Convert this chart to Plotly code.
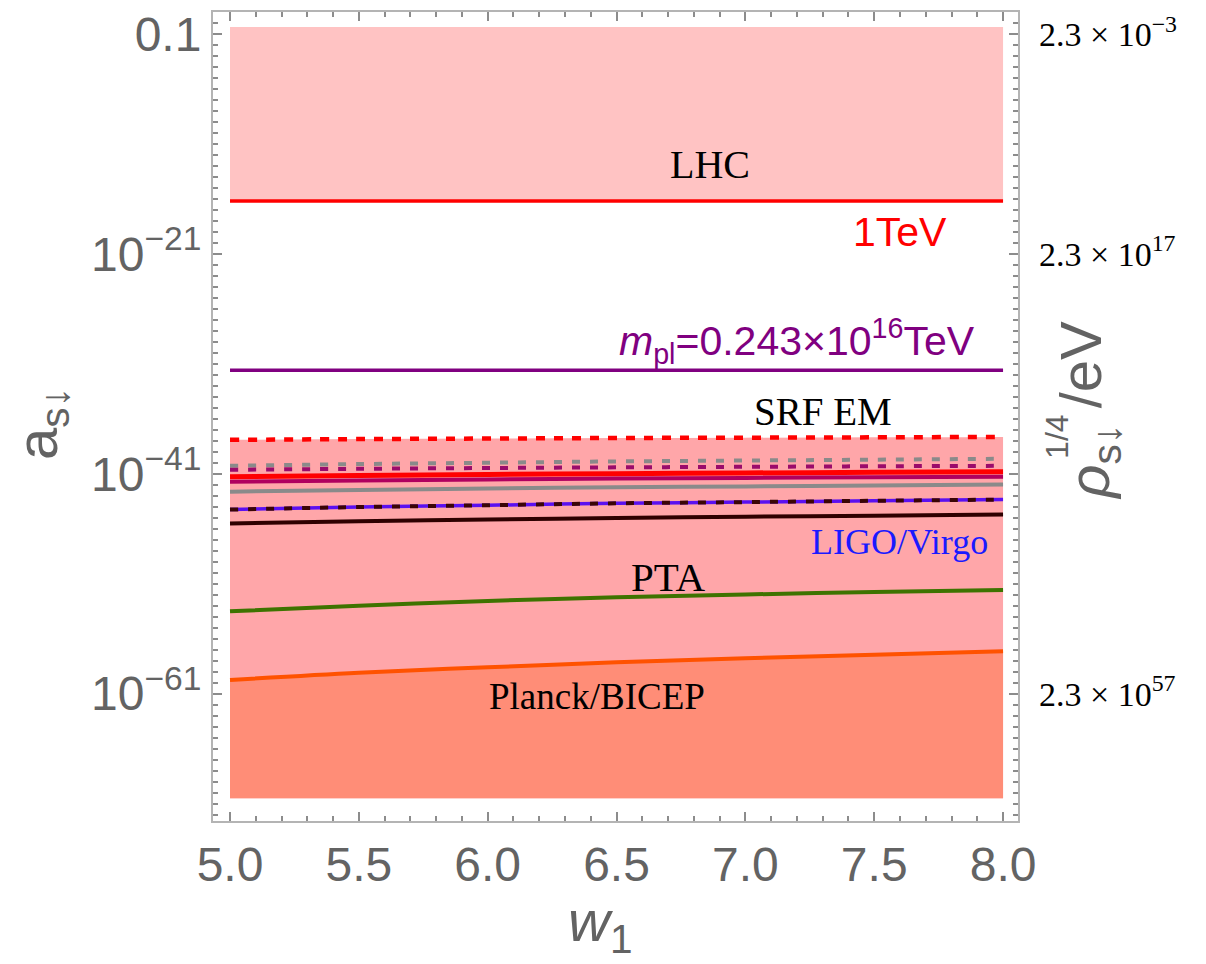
import plotly.graph_objects as go

# ---------------- data ----------------
W = [5.0, 5.5, 6.0, 6.5, 7.0, 7.5, 8.0]

# log10(a_s) values
LHC_LOG = [-16.2] * 7
MPL_LOG = [-31.6] * 7
FILL_TOP_LOG = [-0.37] * 7
FILL_BOTTOM_LOG = [-70.5] * 7

RED_DASH_LOG = [-37.92, -37.85, -37.80, -37.75, -37.72, -37.69, -37.65]
GRAY_DASH_LOG = [-40.28, -40.12, -40.00, -39.88, -39.80, -39.72, -39.64]
PURPLE_DASH_LOG = [-40.64, -40.55, -40.48, -40.42, -40.37, -40.32, -40.28]
RED_SOLID_LOG = [-41.27, -41.16, -41.07, -40.99, -40.93, -40.87, -40.82]
MAGENTA_SOLID_LOG = [-41.72, -41.61, -41.52, -41.44, -41.38, -41.32, -41.27]
GRAY_SOLID_LOG = [-42.63, -42.47, -42.35, -42.23, -42.15, -42.07, -41.99]
BLUE_SOLID_LOG = [-44.26, -44.03, -43.86, -43.69, -43.58, -43.46, -43.35]
DARK_DASH_LOG = [-44.26, -44.03, -43.86, -43.69, -43.58, -43.46, -43.35]
BLACK_SOLID_LOG = [-45.52, -45.32, -45.16, -45.02, -44.91, -44.81, -44.71]
PTA_LOG = [-53.51, -53.00, -52.57, -52.23, -51.98, -51.76, -51.57]
PLANCK_LOG = [-59.76, -59.10, -58.60, -58.15, -57.79, -57.45, -57.14]

X_TICKS = [5.0, 5.5, 6.0, 6.5, 7.0, 7.5, 8.0]
X_TICK_TEXT = ["5.0", "5.5", "6.0", "6.5", "7.0", "7.5", "8.0"]
Y_TICK_EXP = [-1, -21, -41, -61]
Y_TICK_TEXT = ["0.1", "10<sup>\u221221</sup>", "10<sup>\u221241</sup>", "10<sup>\u221261</sup>"]
Y2_TICK_EXP = [-1, -21, -61]
Y2_TICK_TEXT = ["2.3 \u00d7 10<sup>\u22123</sup>", "2.3 \u00d7 10<sup>17</sup>", "2.3 \u00d7 10<sup>57</sup>"]


def v(logs):
    return [10.0 ** e for e in logs]


SANS = "Liberation Sans, Arial, sans-serif"
SERIF = "Liberation Serif, Times New Roman, serif"
GRAY = "#636363"

fig = go.Figure()

# ---- fills ----
fig.add_trace(go.Scatter(x=W, y=v(FILL_TOP_LOG), mode="lines", line=dict(width=0),
                         showlegend=False, hoverinfo="skip"))
fig.add_trace(go.Scatter(x=W, y=v(LHC_LOG), mode="lines", fill="tonexty",
                         fillcolor="#FFC3C3", line=dict(color="#FF0000", width=3.5),
                         showlegend=False))
fig.add_trace(go.Scatter(x=W, y=v(FILL_BOTTOM_LOG), mode="lines", line=dict(width=0),
                         showlegend=False, hoverinfo="skip"))
fig.add_trace(go.Scatter(x=W, y=v(RED_DASH_LOG), mode="lines", fill="tonexty",
                         fillcolor="#FFA6A9", line=dict(width=0, shape="spline"),
                         showlegend=False, hoverinfo="skip"))
fig.add_trace(go.Scatter(x=W, y=v(FILL_BOTTOM_LOG), mode="lines", line=dict(width=0),
                         showlegend=False, hoverinfo="skip"))
fig.add_trace(go.Scatter(x=W, y=v(PLANCK_LOG), mode="lines", fill="tonexty",
                         fillcolor="#FF8D77", line=dict(width=0, shape="spline"),
                         showlegend=False, hoverinfo="skip"))

# ---- lines ----
def add_line(logs, color, width, dash="solid"):
    fig.add_trace(go.Scatter(x=W, y=v(logs), mode="lines",
                             line=dict(color=color, width=width, dash=dash, shape="spline"),
                             showlegend=False))


add_line(MPL_LOG, "#800080", 3.5)
add_line(RED_DASH_LOG, "#FF0000", 4.5, "9px,9px")
add_line(GRAY_DASH_LOG, "#8A8A8A", 4, "8px,10px")
add_line(PURPLE_DASH_LOG, "#9B0B6B", 4, "8px,10px")
add_line(RED_SOLID_LOG, "#FF0000", 5)
add_line(MAGENTA_SOLID_LOG, "#B0005F", 4)
add_line(GRAY_SOLID_LOG, "#8A8A8A", 4)
add_line(BLUE_SOLID_LOG, "#5A10F0", 3.5)
add_line(DARK_DASH_LOG, "#3A0505", 4, "8px,10px")
add_line(BLACK_SOLID_LOG, "#2E0000", 4)
add_line(PTA_LOG, "#3E7300", 4)
add_line(PLANCK_LOG, "#FF5200", 4)

# invisible trace to carry the right axis
fig.add_trace(go.Scatter(x=W, y=v(LHC_LOG), yaxis="y2", mode="lines",
                         line=dict(width=0), opacity=0, showlegend=False, hoverinfo="skip"))

# ---- in-plot labels ----
labels = [
    ("LHC", 6.863, -12.86, SERIF, 40, "black"),
    ("1TeV", 7.60, -19.0, SANS, 41, "#FF0000"),
    ("<i>m</i><sub>pl</sub>=0.243\u00d710<sup>16</sup>TeV", 7.20, -28.9, SANS, 41, "#800080"),
    ("SRF EM", 7.301, -35.30, SERIF, 39, "black"),
    ("LIGO/Virgo", 7.60, -47.24, SERIF, 36, "#1A1AFF"),
    ("PTA", 6.70, -50.41, SERIF, 41, "black"),
    ("Planck/BICEP", 6.424, -61.27, SERIF, 37, "black"),
]
for txt, xx, yy, fam, sz, col in labels:
    fig.add_annotation(x=xx, y=yy, xref="x", yref="y", text=txt, showarrow=False,
                       font=dict(family=fam, size=sz, color=col),
                       xanchor="center", yanchor="middle")

# ---- axis titles ----
def title_ann(text, px, py, size, angle=0, family=SANS):
    fig.add_annotation(x=(px - 205) / 805, y=(813 - py) / 813, xref="paper", yref="paper",
                       text=text, textangle=angle, showarrow=False,
                       xanchor="center", yanchor="middle",
                       font=dict(family=family, size=size, color=GRAY))


title_ann("a<sub>s\u2193</sub>", 33, 414, 58, -90)
title_ann("<i>w</i><sub>1</sub>", 592, 918, 58)
title_ann("<i>\u03c1</i><sub>s\u2193</sub>", 1085, 452, 58, -90)
title_ann("1/4", 1049, 427, 32, -90)
title_ann("/eV", 1072, 355, 58, -90)

FRAME = "#B4B4B4"
TICKC = "#8C8C8C"

fig.update_layout(
    width=1198, height=956,
    margin=dict(l=205, r=188, t=0, b=143),
    paper_bgcolor="white", plot_bgcolor="white",
    xaxis=dict(
        range=[4.934, 8.058], tickvals=X_TICKS, ticktext=X_TICK_TEXT,
        showgrid=False, zeroline=False, showline=True, mirror="ticks",
        linecolor=FRAME, linewidth=2, ticks="inside", ticklen=9, tickcolor=TICKC,
        tickwidth=1.5, ticklabelstandoff=0, ticklabeloverflow="allow",
        tickfont=dict(family=SANS, size=48, color=GRAY),
        minor=dict(dtick=0.1, tick0=5.0, ticks="inside", ticklen=5, tickcolor=TICKC),
    ),
    yaxis=dict(
        type="log", range=[-72.58, 0.99],
        tickvals=[10.0 ** e for e in Y_TICK_EXP], ticktext=Y_TICK_TEXT,
        showgrid=False, zeroline=False, showline=True, mirror="ticks",
        linecolor=FRAME, linewidth=2, ticks="inside", ticklen=9, tickcolor=TICKC,
        tickwidth=1.5, ticklabelstandoff=0, ticklabeloverflow="allow",
        tickfont=dict(family=SANS, size=48, color=GRAY),
        minor=dict(tickvals=[10.0 ** k for k in range(-72, 1)], ticks="inside",
                   ticklen=5, tickcolor=TICKC),
    ),
    yaxis2=dict(
        type="log", range=[-72.58, 0.99], overlaying="y", side="right",
        tickvals=[10.0 ** e for e in Y2_TICK_EXP], ticktext=Y2_TICK_TEXT,
        showgrid=False, zeroline=False, showline=False, ticks="",
        ticklabelstandoff=20, ticklabeloverflow="allow",
        tickfont=dict(family=SERIF, size=34, color="black"),
    ),
)

fig.write_html("out.html")
